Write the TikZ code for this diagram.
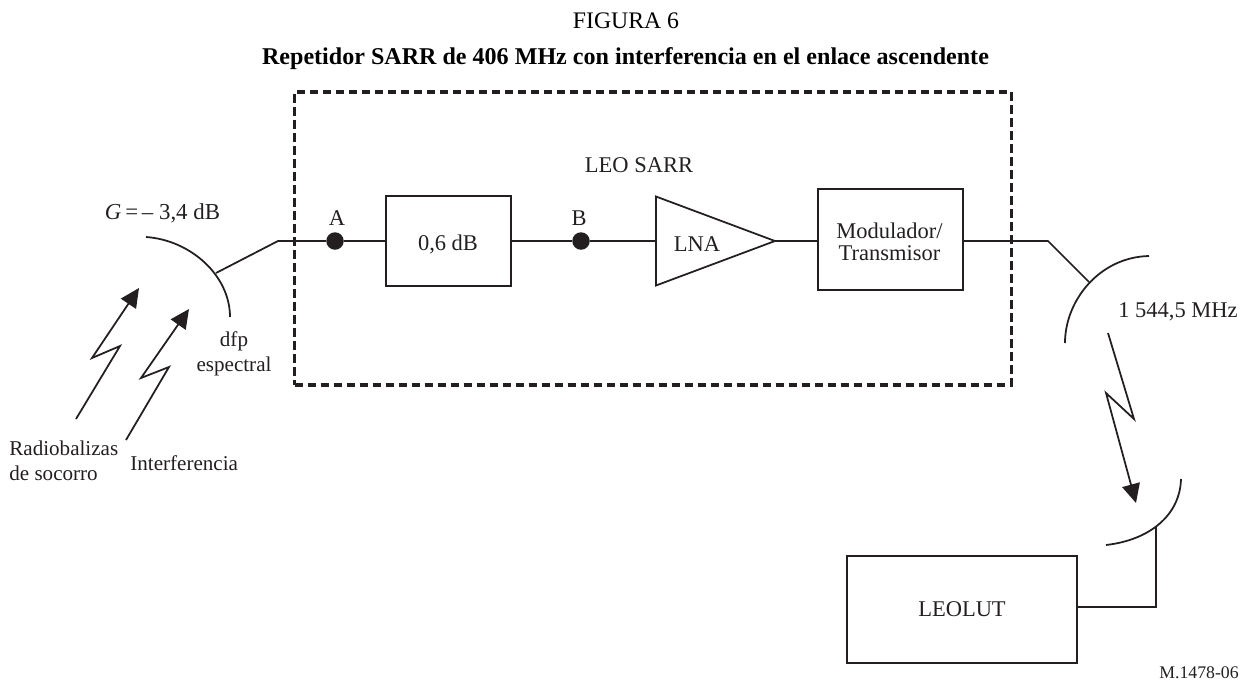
\documentclass[tikz,border=0pt]{standalone}
\usepackage{fontspec}
\setmainfont{Liberation Serif}
\usepackage{tikz}
\usetikzlibrary{arrows.meta,shapes.geometric,positioning}
\definecolor{ink}{HTML}{231F20}

\begin{document}
\begin{tikzpicture}[
  x=0.02cm, y=-0.02cm,
  every node/.style={text=ink, font=\fontsize{12.8}{14}\selectfont, inner sep=0pt},
  smalltext/.style={font=\fontsize{12}{14}\selectfont},
  line/.style={draw=ink, line width=1pt},
  box/.style={rectangle, draw=ink, line width=1pt, align=center},
  dot/.style={circle, fill=ink, minimum size=0.35cm},
  bolt/.style={line, -{Triangle[length=0.38cm, width=0.36cm]}},
]
  \useasboundingbox (0,0) rectangle (1248,684);

  \node[text=black, font=\fontsize{13.5}{15}\selectfont] (figure) at (626,21) {FIGURA 6};
  \node[text=black, font=\fontsize{13.7}{15}\selectfont\bfseries] (title) at (625.5,59) {Repetidor SARR de 406 MHz con interferencia en el enlace ascendente};

  % satellite payload
  \node[rectangle, draw=ink, line width=1.9pt, dash pattern=on 8.5*0.02cm off 4.5*0.02cm, minimum width=14.34cm, minimum height=5.86cm] (sarr) at (653,238.5) {};
  \node (sarrlabel) at (639,165) {LEO SARR};

  \node[dot] (a) at (335,241) {};
  \node[dot] (b) at (581,241) {};
  \node (alabel) at (337,218) {A};
  \node (blabel) at (579,218) {B};

  \node[box, minimum width=2.5cm, minimum height=1.8cm] (loss) at (448.5,241) {};
  \node (losslabel) at (448,244) {0,6 dB};
  \node[isosceles triangle, isosceles triangle stretches, draw=ink, line width=1pt, minimum width=1.78cm, minimum height=2.38cm, outer sep=0pt, anchor=lower side] (lna) at (656,241) {};
  \node (lnalabel) at (697,244) {LNA};
  \node[box, minimum width=2.9cm, minimum height=2.02cm] (modulator) at (890.5,239.5) {};
  \node[align=center] (modulatorlabel) at (889.5,241.5) {Modulador/\\[-1.5pt]Transmisor};

  % receive antenna
  \coordinate (dishleftA) at (146,237);
  \coordinate (dishleftB) at (230,317);
  \coordinate (feedleft) at (216,273);
  \coordinate (kneeleft) at (278,241);
  \draw[line] (dishleftA) .. controls (190,240) and (230,275) .. (dishleftB);
  \draw[line] (feedleft) -- (kneeleft) -- (a);
  \draw[line] (a) -- (loss);
  \draw[line] (loss) -- (b);
  \draw[line] (b) -- (lna.lower side);
  \draw[line] (lna.apex) -- (lna.apex -| modulator.west);

  \node[font=\fontsize{13}{15}\selectfont] (gain) at (162.5,213) {\textit{G}\,=\,– 3,4 dB};
  \node[smalltext, align=center] (psd) at (234,354) {dfp\\espectral};

  \coordinate (beaconA) at (76,419);
  \coordinate (beaconB) at (120,346);
  \coordinate (beaconC) at (92,358);
  \coordinate (beaconD) at (139,288);
  \draw[bolt] (beaconA) -- (beaconB) -- (beaconC) -- (beaconD);

  \coordinate (noiseA) at (126,440);
  \coordinate (noiseB) at (169,367);
  \coordinate (noiseC) at (141,378);
  \coordinate (noiseD) at (189,309);
  \draw[bolt] (noiseA) -- (noiseB) -- (noiseC) -- (noiseD);

  \node[smalltext, align=left, anchor=west] (beacons) at (9,461) {Radiobalizas\\de socorro};
  \node[smalltext, anchor=west] (interference) at (130,463) {Interferencia};

  % downlink antenna
  \coordinate (kneeright) at (1048,241);
  \coordinate (feedright) at (1089,282);
  \coordinate (dishrightA) at (1149,256);
  \coordinate (dishrightB) at (1065,343);
  \draw[line] (modulator.east |- kneeright) -- (kneeright) -- (feedright);
  \draw[line] (dishrightA) .. controls (1100,257) and (1065,300) .. (dishrightB);
  \node[anchor=west] (freq) at (1118,312) {1 544,5 MHz};

  \coordinate (linkA) at (1108,333);
  \coordinate (linkB) at (1134,419);
  \coordinate (linkC) at (1106,393);
  \coordinate (linkD) at (1136,503);
  \draw[bolt] (linkA) -- (linkB) -- (linkC) -- (linkD);

  % ground station
  \coordinate (dishgroundA) at (1181,479);
  \coordinate (dishgroundB) at (1106,545);
  \coordinate (feedground) at (1156,526);
  \draw[line] (dishgroundA) .. controls (1180,515) and (1150,540) .. (dishgroundB);
  \node[box, minimum width=4.6cm, minimum height=2.14cm] (leolut) at (962,609.5) {LEOLUT};
  \draw[line] (feedground) |- ([yshift=0.05cm]leolut.east);

  \node[font=\fontsize{10.1}{12}\selectfont, anchor=east] (ref) at (1239,673) {M.1478-06};
\end{tikzpicture}
\end{document}
